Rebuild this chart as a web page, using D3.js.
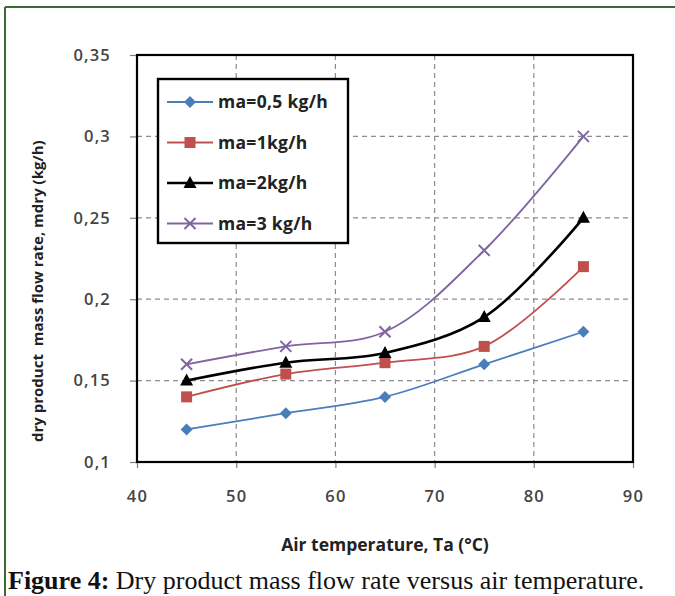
<!DOCTYPE html>
<html>
<head>
<meta charset="utf-8">
<script src="https://cdn.jsdelivr.net/npm/d3@7"></script>
<style>
  html, body { margin: 0; padding: 0; background: #fff; }
  svg { display: block; }
</style>
</head>
<body>
<svg id="chart" width="675" height="596"></svg>
<script>
// Data
const temperatures = [45, 55, 65, 75, 85];
const seriesNames = ["ma=0,5 kg/h", "ma=1kg/h", "ma=2kg/h", "ma=3 kg/h"];
const flow05 = [0.12, 0.13, 0.14, 0.16, 0.18];
const flow1 = [0.14, 0.154, 0.161, 0.171, 0.22];
const flow2 = [0.15, 0.161, 0.167, 0.189, 0.25];
const flow3 = [0.16, 0.171, 0.18, 0.23, 0.30];
const xTicks = [40, 50, 60, 70, 80, 90];
const yTicks = [0.1, 0.15, 0.2, 0.25, 0.3, 0.35];

const config = {
    plot: { pLeft: 137, pTop: 55, pRight: 633, pBottom: 462 },
    colors: ["#4a7ebb", "#c0504d", "#000000", "#8064a2"],
    symbols: ["diamond", "square", "triangle", "cross"],
    labelFont: "'Open Sans', Lato, sans-serif"
};

const series = [flow05, flow1, flow2, flow3].map((values, i) => ({
    name: seriesNames[i],
    color: config.colors[i],
    symbol: config.symbols[i],
    points: temperatures.map((t, j) => ({ t, v: values[j] }))
}));

const svg = d3.select("#chart");
const { pLeft, pTop, pRight, pBottom } = config.plot;

const x = d3.scaleLinear().domain([40, 90]).range([pLeft, pRight]);
const y = d3.scaleLinear().domain([0.1, 0.35]).range([pBottom, pTop]);

// Figure frame (green rule on top and left)
svg.append("line").attr("x1", 5).attr("x2", 675).attr("y1", 7).attr("y2", 7)
    .attr("stroke", "#3b6b35").attr("stroke-width", 2);
svg.append("line").attr("x1", 5).attr("x2", 5).attr("y1", 7).attr("y2", 596)
    .attr("stroke", "#3b6b35").attr("stroke-width", 2);

// Gridlines
const grid = svg.append("g").attr("stroke", "#8c8c8c").attr("stroke-width", 1.2)
    .attr("stroke-dasharray", "5,4");
grid.selectAll(".hgrid").data(yTicks.slice(1, -1)).enter().append("line")
    .attr("x1", pLeft).attr("x2", pRight)
    .attr("y1", d => y(d)).attr("y2", d => y(d));
grid.selectAll(".vgrid").data(xTicks.slice(1, -1)).enter().append("line")
    .attr("y1", pTop).attr("y2", pBottom)
    .attr("x1", d => x(d)).attr("x2", d => x(d));

// Axes
const yAxis = svg.append("g").attr("transform", `translate(${pLeft},0)`)
    .call(d3.axisLeft(y).tickValues(yTicks).tickSize(7).tickPadding(21)
        .tickFormat(d => d3.format(".2~f")(d).replace(".", ",")));
const xAxis = svg.append("g").attr("transform", `translate(0,${pBottom})`)
    .call(d3.axisBottom(x).tickValues(xTicks).tickSize(6).tickPadding(22));
[xAxis, yAxis].forEach(a => {
    a.select(".domain").remove();
    a.selectAll(".tick line").attr("stroke", "#808080").attr("stroke-width", 1.2);
    a.selectAll("text").attr("fill", "#444").attr("font-family", config.labelFont)
        .attr("font-weight", 600).attr("font-size", 16.5).attr("letter-spacing", 1.2);
});
yAxis.selectAll("text").attr("dx", 2);

// Plot border
svg.append("rect").attr("x", pLeft).attr("y", pTop)
    .attr("width", pRight - pLeft).attr("height", pBottom - pTop)
    .attr("fill", "none").attr("stroke", "#000").attr("stroke-width", 2.2);

// Lines (Excel-style smoothed)
const line = d3.line().x(d => x(d.t)).y(d => y(d.v)).curve(d3.curveCatmullRom.alpha(0.5));

function drawMarker(g, symbol, color) {
    if (symbol === "cross") {
        g.append("path").attr("d", "M-5.5,-5.5L5.5,5.5M-5.5,5.5L5.5,-5.5")
            .attr("stroke", color).attr("stroke-width", 2).attr("fill", "none");
    } else if (symbol === "diamond") {
        g.append("path").attr("d", "M0,-6L6,0L0,6L-6,0Z").attr("fill", color);
    } else if (symbol === "square") {
        g.append("rect").attr("x", -5.5).attr("y", -5.5).attr("width", 11).attr("height", 11)
            .attr("fill", color);
    } else {
        g.append("path").attr("d", "M0,-7L6.5,5L-6.5,5Z").attr("fill", color);
    }
}

series.forEach(s => {
    svg.append("path").datum(s.points).attr("d", line)
        .attr("fill", "none").attr("stroke", s.color)
        .attr("stroke-width", s.symbol === "triangle" ? 2.6 : 1.8);
    s.points.forEach(p => {
        const g = svg.append("g").attr("transform", `translate(${x(p.t)},${y(p.v)})`);
        drawMarker(g, s.symbol, s.color);
    });
});

// Legend
const legend = svg.append("g").attr("transform", "translate(158,79)");
legend.append("rect").attr("width", 190).attr("height", 164)
    .attr("fill", "#fff").attr("stroke", "#000").attr("stroke-width", 2.4);
series.forEach((s, i) => {
    const row = legend.append("g").attr("transform", `translate(0,${23 + i * 40.5})`);
    row.append("line").attr("x1", 9).attr("x2", 55).attr("y1", 0).attr("y2", 0)
        .attr("stroke", s.color).attr("stroke-width", s.symbol === "triangle" ? 2.6 : 1.8);
    drawMarker(row.append("g").attr("transform", "translate(32,0)"), s.symbol, s.color);
    row.append("text").attr("x", 60).attr("y", 6).text(s.name)
        .attr("font-family", config.labelFont).attr("font-weight", "bold")
        .attr("font-size", 17.5).attr("letter-spacing", 0.3).attr("fill", "#222");
});

// Axis titles
svg.append("text").attr("transform", `translate(43,442) rotate(-90)`)
    .attr("text-anchor", "start").attr("font-family", config.labelFont)
    .attr("font-weight", "bold").attr("font-size", 15).attr("fill", "#222")
    .attr("xml:space", "preserve")
    .text("dry product  mass flow rate, mdry (kg/h)");
svg.append("text").attr("x", 385).attr("y", 551)
    .attr("text-anchor", "middle").attr("font-family", config.labelFont)
    .attr("font-weight", "bold").attr("font-size", 17.5).attr("fill", "#222")
    .text("Air temperature, Ta (°C)");

// Caption
const caption = svg.append("text").attr("x", 8).attr("y", 589)
    .attr("font-family", "'Liberation Serif', 'DejaVu Serif', serif")
    .attr("font-size", 26).attr("fill", "#111");
caption.append("tspan").attr("font-weight", "bold").text("Figure 4:");
caption.append("tspan").text(" Dry product mass flow rate versus air temperature.");
</script>
</body>
</html>
